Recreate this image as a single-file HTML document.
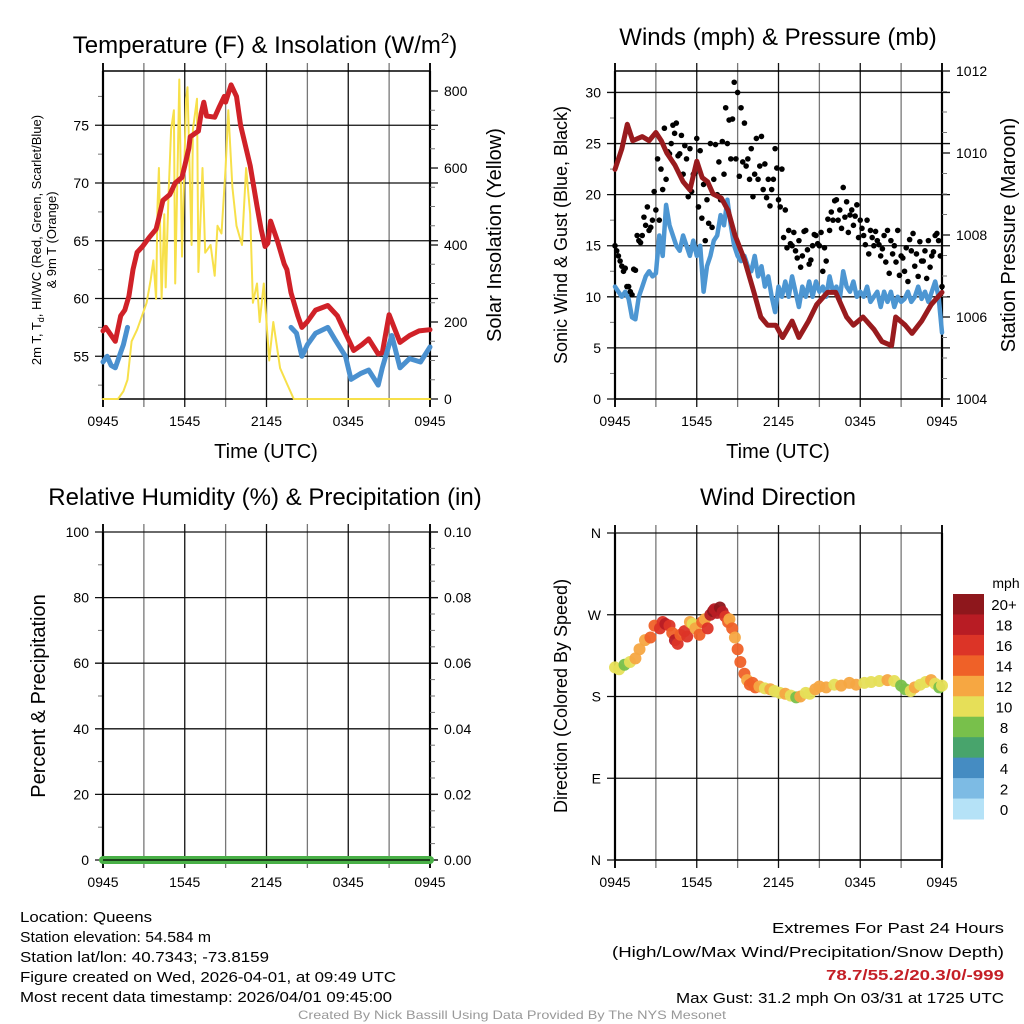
<!DOCTYPE html>
<html><head><meta charset="utf-8"><style>
html,body{margin:0;padding:0;background:#fff}
svg{display:block;font-family:"Liberation Sans",sans-serif}
</style></head><body>
<svg id="s" width="1024" height="1024" viewBox="0 0 1024 1024" xmlns="http://www.w3.org/2000/svg">
<g id="bg"></g>
</svg>
<script>
// ---------- DATA ----------
const xTickLabels=["0945","1545","2145","0345","0945"];
const tempT=[0,0.2,0.9,1.3,1.6,1.9,2.2,2.5,2.9,3.4,3.9,4.1,4.4,4.9,5.3,5.8,6.0,6.3,6.4,7.0,7.2,7.4,7.6,8.2,8.5,8.9,9.0,9.4,9.8,10.1,10.5,10.8,11.3,11.6,11.9,12.1,12.3,12.8,13.3,13.5,13.8,14.3,14.6,15.0,15.6,16.5,17.2,17.8,18.4,19.0,19.5,20.2,20.5,21.0,21.8,22.5,23.2,24];
const tempV=[57.2,57.5,56.3,58.5,59,60.2,62.5,64,64.5,65.3,66,67,68.5,69,70,70.5,71.5,73,74,74.5,76,77,75.8,75.7,76.5,77.5,77,78.5,77.5,75,73,71.5,68,66,64.5,64.8,66.7,65,63,62.5,60.5,58.5,57.5,58,59,59.4,58.5,57,55.5,56,56.5,55.2,55.3,58.6,56.2,56.8,57.2,57.3];
const dewT1=[0,0.3,0.6,0.9,1.2,1.5,1.8];
const dewV1=[54.5,55,54.2,54,55,56,57.5];
const dewT2=[13.8,14.2,14.6,15.0,15.6,16.5,17.0,17.8,18.2,18.9,19.5,20.2,20.5,21.2,21.8,22.5,23.3,24];
const dewV2=[57.5,57,55,56,57,57.5,56.5,55,53,53.5,53.8,52.5,54,56.8,54,54.8,54.5,55.8];
const solT=[0,1.1,1.5,1.8,2.1,2.5,2.8,3.2,3.5,3.7,3.9,4.0,4.1,4.3,4.5,4.6,4.8,5.0,5.2,5.3,5.5,5.6,5.8,6.1,6.2,6.5,6.6,6.9,7.0,7.3,7.5,7.9,8.2,8.4,8.7,9.0,9.2,9.5,9.8,10.2,10.5,10.8,11.0,11.3,11.5,11.8,12.0,12.2,12.5,13.0,13.5,14.0,24];
const solV=[0,0,20,50,150,180,210,250,310,360,260,500,600,260,480,290,520,700,750,300,640,830,370,780,810,400,700,780,330,600,380,400,320,450,430,600,750,550,450,400,600,480,250,300,200,300,200,100,200,80,40,0,0];
// Wind (mph), every 15 min
const windV=[11,10.5,10,10.5,9.8,8,7.8,10,11,12,12.5,12,12.3,
16,14,19,17,16,15,14.5,16,15,14,15.5,14,15,
10.5,13,14,15.5,16,18,17,19.5,17,15,14,13.5,
14,13,12.5,14,12,13,11,12,10,8.5,11,
10,11.5,10,12,10.5,9,11,10,11.5,10,11.5,10.5,
11,10,12,10.5,11,9.8,12.5,11,10.5,11.5,10,10.5,
10,11,9.5,10,10.5,9,10.5,9.5,10.5,9,10,9.5,
9.8,10.5,9.5,10,11,9.8,10.5,9.5,10.5,11.5,10,6.5];
const presT=[0,0.5,0.9,1.3,2.0,2.5,3.0,3.4,3.8,4.4,5.0,5.5,6.0,6.4,6.8,7.2,7.8,8.3,8.8,9.5,10.2,10.7,11.2,11.8,12.3,13.0,13.5,14.2,14.8,15.6,16.2,17.0,17.5,18.2,19.0,19.6,20.3,20.6,21.3,21.8,22.5,23.2,24];
const presV=[1009.6,1010.1,1010.7,1010.3,1010.4,1010.3,1010.5,1010.3,1010.0,1009.7,1009.3,1009.1,1009.8,1009.4,1009.3,1009.0,1008.9,1008.6,1008.0,1007.4,1006.6,1006.0,1005.8,1005.8,1005.5,1005.9,1005.5,1005.9,1006.3,1006.6,1006.6,1006.0,1005.8,1006.0,1005.7,1005.4,1005.3,1006.0,1005.8,1005.6,1005.9,1006.3,1006.6];
const gustV=[15,14,13,12.8,11,10.2,12.6,15.5,16,17,16.5,17.5,18.5,17.5,20.5,21.5,
24,26.8,27,24,22,23.5,24.5,22,25.5,24.3,21,19.5,25,21.5,20,19.5,
22,25,23.5,31,30,28.5,27,23.5,24.5,22,21.5,25.7,23,21.5,20.5,24.5,
19.5,22.5,18.5,16.5,15,14.5,15.5,14,16.5,13.2,15,16,15,12.5,13.5,16.5,
17.5,19.5,18.5,20.7,19.3,18,17,19,17.5,16,17.5,16.5,15,15.5,14,16,
16.5,15.5,15,16.5,14,12.5,11.5,14.5,13,12,13.5,14.5,15.5,14,16,15.5,11];
const gustV2=[14.5,13.5,12.5,11,10.5,12.7,16,15.3,17.8,18.8,16.8,20.3,23.5,22.5,26.5,24.2,
25,26,23.8,25.8,24.8,19.8,20.3,22.1,18.8,17.7,15.5,17.2,16.8,24.9,23.2,25.2,
28.5,27.3,27.4,23.5,21.8,23.2,22.8,21.5,19.8,25.5,22.8,20.5,19.7,18.9,21.5,22.6,
18.8,15.8,14.8,15.2,16.3,13.8,12.9,16.4,14.6,13.6,16.1,15.2,16.3,14.8,17.6,18.3,
19.4,17.5,16.7,17.8,16.3,18.5,17.9,15.8,16.7,15.1,14.2,15.8,16.4,15.1,14.7,13.4,
12.3,14.2,13.4,12.1,13.8,14.8,15.6,16.2,14.2,15.4,13.5,11.8,12.9,14.4,16.2,14];
const dirT=[0,0.3,0.7,1.1,1.5,1.8,2.2,2.6,2.9,3.3,3.5,3.7,4.0,4.2,4.4,4.6,4.8,5.1,5.3,5.5,5.7,5.9,6.2,6.4,6.6,6.8,7.0,7.2,7.3,7.5,7.7,7.9,8.1,8.3,8.4,8.6,8.8,9.0,9.2,9.5,9.7,9.9,10.1,10.3,10.6,11.0,11.4,11.7,12.1,12.5,12.9,13.3,13.6,14.0,14.3,14.7,15.0,15.5,16.1,16.6,17.2,17.7,18.3,18.8,19.4,20.0,20.5,21.0,21.3,21.7,22.0,22.4,22.8,23.2,23.5,23.8,24];
const dirV=[212,210,215,218,222,232,242,245,258,255,262,260,258,250,242,238,248,252,246,262,260,255,248,262,265,255,270,274,276,272,278,273,268,262,265,255,245,232,218,205,198,193,195,190,191,189,188,186,184,183,181,179,180,184,183,188,191,190,193,192,195,193,195,196,197,198,197,192,188,186,190,193,196,198,194,190,192];
const dirS=[10,10,9,11,12,13,13,14,15,17,16,18,17,15,18,16,15,16,17,13,10,12,15,14,13,16,19,20,18,19,21,18,16,15,12,14,13,14,15,14,13,14,15,14,12,11,12,10,11,13,10,8,12,11,10,12,13,12,11,12,12,13,10,10,11,12,11,9,8,10,12,10,11,12,10,9,11];
const precipT=[0,24];
const precipV=[0,0];
const cbLabels=["20+","18","16","14","12","10","8","6","4","2","0"];
const cbColors=["#8e171c","#b81c24","#dc3427","#ef6128","#f6a742","#e6df58","#78c04b","#48a46c","#458cc2","#7dbbe4","#b5e2f7"];

// ---------- HELPERS ----------
const S=document.getElementById('s');
const NS="http://www.w3.org/2000/svg";
function el(tag,attrs,parent,txt){const e=document.createElementNS(NS,tag);for(const k in attrs)e.setAttribute(k,attrs[k]);if(txt!==undefined)e.textContent=txt;(parent||S).appendChild(e);return e;}
function grp(name){const g=el('g',{});


return g;}

function panel(o){
  const g=grp(o.name);
  const X=t=>o.x0+(t/24)*(o.x1-o.x0);
  const Y=v=>o.yb-(v-o.ymin)/(o.ymax-o.ymin)*(o.yb-o.yt);
  for(let h=0;h<=24;h+=3){const x=X(h);
    const gl=el('line',{x1:x,x2:x,y1:o.yt-(o.ext||8),y2:o.yb+8,stroke:(h%6==3?'#777':'#111'),'stroke-width':(h===0||h===24)?2:1.3},g);
    
    
  }
  xTickLabels.forEach((l,i)=>{const t=el('text',{x:X(i*6),y:o.yb+27,'font-size':14,'text-anchor':'middle'},g,l);
    
    });
  o.yTicks.forEach((v,i)=>{const y=Y(v);
    const gl=el('line',{x1:o.x0-8,x2:o.x1+(o.rightTicks?8:0),y1:y,y2:y,stroke:'#111','stroke-width':1.3},g);
    
    
    const t=el('text',{x:o.x0-14,y:y+5,'font-size':14,'text-anchor':'end'},g,o.yLabels[i]);
    
    });
  (o.yMinor||[]).forEach(v=>{const y=Y(v);el('line',{x1:o.x0-5,x2:o.x0,y1:y,y2:y,stroke:'#777','stroke-width':1},g);});
  el('line',{x1:o.x0,x2:o.x0,y1:o.yt,y2:o.yb,stroke:'#000','stroke-width':2.2},g);
  el('line',{x1:o.x1,x2:o.x1,y1:o.yt,y2:o.yb,stroke:'#000','stroke-width':2.2},g);
  el('line',{x1:o.x0,x2:o.x1,y1:o.yb,y2:o.yb,stroke:'#000','stroke-width':1.5},g);
  if(o.topLine)el('line',{x1:o.x0,x2:o.x1,y1:o.yt,y2:o.yt,stroke:'#000','stroke-width':1.5},g);
  return {g,X,Y};
}
function rightAxis(g,o,ticks,labels,minor,Yr){
  ticks.forEach((v,i)=>{const y=Yr(v);el('line',{x1:o.x1,x2:o.x1+8,y1:y,y2:y,stroke:'#111','stroke-width':1.3},g);
    const t=el('text',{x:o.x1+14,y:y+5,'font-size':14},g,labels[i]);
    
    });
  minor.forEach(v=>{const y=Yr(v);el('line',{x1:o.x1,x2:o.x1+5,y1:y,y2:y,stroke:'#777','stroke-width':1},g);});
}
function line(g,T,V,X,Y,color,w,name){
  const d=T.map((t,i)=>(i?'L':'M')+X(t).toFixed(1)+','+Y(V[i]).toFixed(1)).join('');
  const p=el('path',{d,fill:'none',stroke:color,'stroke-width':w,'stroke-linejoin':'round','stroke-linecap':'round'},g);
  
  
  return p;
}
function title(x,y,txt,name,size){const t=el('text',{x,y,'font-size':size||24,'text-anchor':'middle'},S,txt);
  
  return t;}
function vlabel(x,y,txt,name,size){const t=el('text',{x:0,y:0,'font-size':size||20,'text-anchor':'middle',transform:`translate(${x},${y}) rotate(-90)`},S,txt);
  
  return t;}

// ---------- PANEL 1 ----------
(function(){
  const o={name:'temperature-panel',x0:103,x1:430,yt:71,yb:399,ymin:51.3,ymax:79.7,yTicks:[55,60,65,70,75],yLabels:['55','60','65','70','75'],yMinor:[52.5,57.5,62.5,67.5,72.5,77.5],rightTicks:true,topLine:true,ext:0};
  const p=panel(o);
  const Yr=v=>399-v/852*328;
  rightAxis(p.g,o,[0,200,400,600,800],['0','200','400','600','800'],[50,100,150,250,300,350,450,500,550,650,700,750],Yr);
  line(p.g,solT,solV,p.X,Yr,'#f7e04a',2,'solar-insolation-line');
  line(p.g,tempT,tempV,p.X,p.Y,'#d02128',5,'temperature-line');
  line(p.g,dewT1,dewV1,p.X,p.Y,'#4a90cf',5,'dewpoint-line-early');
  line(p.g,dewT2,dewV2,p.X,p.Y,'#4a90cf',5,'dewpoint-line-late');
})();
el('text',{x:265,y:53,'font-size':24,'text-anchor':'middle'},S).innerHTML='Temperature (F) &amp; Insolation (W/m<tspan font-size="15" dy="-10">2</tspan><tspan dy="10">)</tspan>';


(function(){const t=el('text',{x:0,y:0,'font-size':13,'text-anchor':'middle',transform:'translate(41,240) rotate(-90)'},S);
t.innerHTML='2m T, T<tspan font-size="9" dy="3">d</tspan><tspan dy="-3">, HI/WC (Red, Green, Scarlet/Blue)</tspan>';


const t2=el('text',{x:0,y:0,'font-size':13,'text-anchor':'middle',transform:'translate(56,240) rotate(-90)'},S,'& 9m T (Orange)');

})();
vlabel(501,235,'Solar Insolation (Yellow)','solar-y-axis-title');
title(266,458,'Time (UTC)','temperature-x-axis-title',20);

// ---------- PANEL 2 ----------
(function(){
  const o={name:'winds-panel',x0:615,x1:942,yt:71,yb:399,ymin:0,ymax:32.1,yTicks:[0,5,10,15,20,25,30],yLabels:['0','5','10','15','20','25','30'],yMinor:[2.5,7.5,12.5,17.5,22.5,27.5],rightTicks:true,topLine:true,ext:0};
  const p=panel(o);
  const Yr=v=>399-(v-1004)/8*328;
  rightAxis(p.g,o,[1004,1006,1008,1010,1012],['1004','1006','1008','1010','1012'],[1004.5,1005,1005.5,1006.5,1007,1007.5,1008.5,1009,1009.5,1010.5,1011,1011.5],Yr);
  line(p.g,windV.map((v,i)=>i*0.25),windV,p.X,p.Y,'#4d96d2',4.5,'sonic-wind-line');
  const dg=grp('gust-dots');p.g.appendChild(dg);
  gustV.forEach((v,i)=>{const c=el('circle',{cx:p.X(i*0.25),cy:p.Y(v),r:2.8,fill:'#000'},dg);
    
    });
  gustV2.forEach((v,i)=>{const c=el('circle',{cx:p.X(i*0.25+0.125),cy:p.Y(v),r:2.8,fill:'#000'},dg);
    
    });
  line(p.g,presT,presV,p.X,Yr,'#991b1e',5,'pressure-line');
})();
title(778,45,'Winds (mph) & Pressure (mb)','winds-title');
vlabel(567,235,'Sonic Wind & Gust (Blue, Black)','wind-y-axis-title',18);
vlabel(1015,235,'Station Pressure (Maroon)','pressure-y-axis-title');
title(778,458,'Time (UTC)','winds-x-axis-title',20);

// ---------- PANEL 3 ----------
(function(){
  const o={name:'humidity-precip-panel',x0:103,x1:430,yt:532,yb:860,ymin:0,ymax:100,yTicks:[0,20,40,60,80,100],yLabels:['0','20','40','60','80','100'],yMinor:[10,30,50,70,90],rightTicks:true,ext:8};
  const p=panel(o);
  const Yr=v=>860-v/0.1*328;
  rightAxis(p.g,o,[0,0.02,0.04,0.06,0.08,0.1],['0.00','0.02','0.04','0.06','0.08','0.10'],[0.005,0.01,0.015,0.025,0.03,0.035,0.045,0.05,0.055,0.065,0.07,0.075,0.085,0.09,0.095],Yr);
  line(p.g,precipT,precipV,p.X,Yr,'#49b047',8,'precipitation-line');
  el('line',{x1:103,x2:430,y1:860,y2:860,stroke:'#000','stroke-width':1.2},p.g);
})();
title(265,505,'Relative Humidity (%) & Precipitation (in)','humidity-title');
vlabel(45,696,'Percent & Precipitation','humidity-y-axis-title',20);

// ---------- PANEL 4 ----------
(function(){
  const o={name:'wind-direction-panel',x0:615,x1:942,yt:533,yb:860,ymin:0,ymax:360,yTicks:[0,90,180,270,360],yLabels:['N','E','S','W','N'],rightTicks:false,ext:8};
  const p=panel(o);
  const colorFor=s=>{const k=Math.min(10,Math.max(0,Math.floor(s/2)));return cbColors[10-k];};
  dirV.forEach((v,i)=>{const c=el('circle',{cx:p.X(dirT[i]),cy:p.Y(v),r:6,fill:colorFor(dirS[i]),opacity:0.95},p.g);
    
    });
  const cb=grp('speed-colorbar');
  const h=(819-594)/cbColors.length;
  cbColors.forEach((c,i)=>{el('rect',{x:953,y:594+i*h,width:31,height:h+0.5,fill:c},cb);
    const t=el('text',{x:1004,y:594+i*h+h/2+6,'font-size':15,'text-anchor':'middle'},cb,cbLabels[i]);
    
    });
  el('text',{x:1006,y:588,'font-size':14,'text-anchor':'middle'},cb,'mph');
})();
title(778,505,'Wind Direction','wind-direction-title');
vlabel(567,696,'Direction (Colored By Speed)','direction-y-axis-title',18);

// ---------- FOOTER ----------
const leftLines=['Location: Queens','Station elevation: 54.584 m','Station lat/lon: 40.7343; -73.8159','Figure created on Wed, 2026-04-01, at 09:49 UTC','Most recent data timestamp: 2026/04/01 09:45:00'];
const leftLens=[132,191,249,376,372];
leftLines.forEach((s,i)=>{const t=el('text',{x:20,y:922+i*20,'font-size':15,textLength:leftLens[i],lengthAdjust:'spacingAndGlyphs'},S,s);
  
  });
const rt=[['Extremes For Past 24 Hours',232,'#000','normal',933],['(High/Low/Max Wind/Precipitation/Snow Depth)',392,'#000','normal',957],['78.7/55.2/20.3/0/-999',178,'#c41f26','bold',980],['Max Gust: 31.2 mph On 03/31 at 1725 UTC',328,'#000','normal',1003]];
rt.forEach(r=>{const t=el('text',{x:1004,y:r[4],'font-size':15,'text-anchor':'end',fill:r[2],'font-weight':r[3],textLength:r[1],lengthAdjust:'spacingAndGlyphs'},S,r[0]);
  
  });
const cr=el('text',{x:512,y:1019,'font-size':12,'text-anchor':'middle',fill:'#999',textLength:428,lengthAdjust:'spacingAndGlyphs'},S,'Created By Nick Bassill Using Data Provided By The NYS Mesonet');


</script>
</body></html>
